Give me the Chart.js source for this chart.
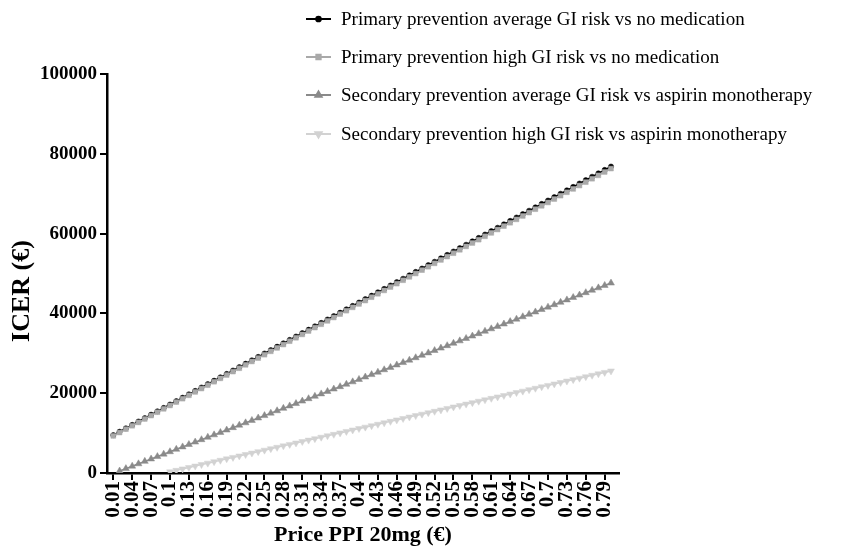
<!DOCTYPE html>
<html>
<head>
<meta charset="utf-8">
<script src="https://cdn.jsdelivr.net/npm/chart.js@4.4.1/dist/chart.umd.min.js"></script>
<style>
  html, body { margin: 0; padding: 0; background: #ffffff; }
  #wrap { position: relative; width: 856px; height: 549px; }
</style>
</head>
<body>
<div id="wrap"><canvas id="c" width="856" height="549"></canvas></div>
<script>
// PPI price per 20 mg tablet (€)
const prices = [
  0.01,0.02,0.03,0.04,0.05,0.06,0.07,0.08,0.09,0.10,
  0.11,0.12,0.13,0.14,0.15,0.16,0.17,0.18,0.19,0.20,
  0.21,0.22,0.23,0.24,0.25,0.26,0.27,0.28,0.29,0.30,
  0.31,0.32,0.33,0.34,0.35,0.36,0.37,0.38,0.39,0.40,
  0.41,0.42,0.43,0.44,0.45,0.46,0.47,0.48,0.49,0.50,
  0.51,0.52,0.53,0.54,0.55,0.56,0.57,0.58,0.59,0.60,
  0.61,0.62,0.63,0.64,0.65,0.66,0.67,0.68,0.69,0.70,
  0.71,0.72,0.73,0.74,0.75,0.76,0.77,0.78,0.79,0.80
];

// ICER (€) per scenario
const primaryAverage = [
  9500,10350,11200,12060,12910,13760,14610,15460,16320,17170,
  18020,18870,19720,20580,21430,22280,23130,23980,24840,25690,
  26540,27390,28240,29100,29950,30800,31650,32500,33360,34210,
  35060,35910,36760,37620,38470,39320,40170,41020,41880,42730,
  43580,44430,45280,46140,46990,47840,48690,49540,50400,51250,
  52100,52950,53800,54660,55510,56360,57210,58060,58920,59770,
  60620,61470,62320,63180,64030,64880,65730,66580,67440,68290,
  69140,69990,70840,71700,72550,73400,74250,75100,75960,76810
];
const primaryHigh = [
  9300,10150,11000,11840,12690,13540,14390,15240,16080,16930,
  17780,18630,19480,20320,21170,22020,22870,23720,24560,25410,
  26260,27110,27960,28800,29650,30500,31350,32200,33040,33890,
  34740,35590,36440,37280,38130,38980,39830,40680,41520,42370,
  43220,44070,44920,45760,46610,47460,48310,49160,50000,50850,
  51700,52550,53400,54240,55090,55940,56790,57640,58480,59330,
  60180,61030,61880,62720,63570,64420,65270,66120,66960,67810,
  68660,69510,70360,71200,72050,72900,73750,74600,75440,76290
];
const secondaryAverage = [
  null,500,1100,1710,2310,2920,3520,4120,4730,5330,
  5940,6540,7140,7750,8350,8960,9560,10160,10770,11370,
  11980,12580,13180,13790,14390,15000,15600,16200,16810,17410,
  18020,18620,19220,19830,20430,21040,21640,22240,22850,23450,
  24060,24660,25260,25870,26470,27080,27680,28280,28890,29490,
  30100,30700,31300,31910,32510,33120,33720,34320,34930,35530,
  36140,36740,37340,37950,38550,39160,39760,40360,40970,41570,
  42180,42780,43380,43990,44590,45200,45800,46400,47010,47610
];
const secondaryHigh = [
  null,null,null,null,null,null,null,null,null,300,
  660,1020,1380,1740,2110,2470,2830,3190,3550,3910,
  4270,4630,4990,5350,5720,6080,6440,6800,7160,7520,
  7880,8240,8600,8960,9330,9690,10050,10410,10770,11130,
  11490,11850,12210,12570,12940,13300,13660,14020,14380,14740,
  15100,15460,15820,16180,16550,16910,17270,17630,17990,18350,
  18710,19070,19430,19790,20160,20520,20880,21240,21600,21960,
  22320,22680,23040,23400,23770,24130,24490,24850,25210,25570
];

const seriesNames = [
  'Primary prevention average GI risk vs no medication',
  'Primary prevention high GI risk vs no medication',
  'Secondary prevention average GI risk vs aspirin monotherapy',
  'Secondary prevention high GI risk vs aspirin monotherapy'
];

const xTickLabels = [
  '0.01','0.04','0.07','0.1','0.13','0.16','0.19','0.22','0.25','0.28',
  '0.31','0.34','0.37','0.4','0.43','0.46','0.49','0.52','0.55','0.58',
  '0.61','0.64','0.67','0.7','0.73','0.76','0.79'
];
const yTickValues = [0, 20000, 40000, 60000, 80000, 100000];

const SERIF = '"Liberation Serif", "Times New Roman", serif';

function pts(values) {
  return prices.map((p, i) => ({ x: p, y: values[i] }));
}

const styles = [
  { color: '#000000', pointStyle: 'circle',   radius: 2.6, rotation: 0,   order: 2 },
  { color: '#a9a9a9', pointStyle: 'rect',     radius: 3.4, rotation: 0,   order: 1 },
  { color: '#8a8a8a', pointStyle: 'triangle', radius: 4,   rotation: 0,   order: 3 },
  { color: '#d2d2d2', pointStyle: 'triangle', radius: 4,   rotation: 180, order: 4 }
];
const seriesValues = [primaryAverage, primaryHigh, secondaryAverage, secondaryHigh];

const datasets = seriesValues.map((vals, k) => ({
  label: seriesNames[k],
  data: pts(vals),
  borderColor: styles[k].color,
  backgroundColor: styles[k].color,
  borderWidth: 1.5,
  pointStyle: styles[k].pointStyle,
  pointRadius: styles[k].radius,
  pointRotation: styles[k].rotation,
  pointBorderWidth: 0.5,
  order: styles[k].order,
  spanGaps: false
}));

// Legend block and rotated y-axis title, drawn on the canvas
const extrasPlugin = {
  id: 'extras',
  afterDraw(chart) {
    const ctx = chart.ctx;
    const rows = [19, 57, 95, 134];
    ctx.save();
    rows.forEach((y, k) => {
      const s = styles[k];
      ctx.strokeStyle = s.color;
      ctx.lineWidth = 2;
      ctx.beginPath();
      ctx.moveTo(306, y);
      ctx.lineTo(331, y);
      ctx.stroke();
      ctx.fillStyle = s.color;
      ctx.strokeStyle = s.color;
      Chart.helpers.drawPoint(ctx, {
        pointStyle: s.pointStyle, radius: s.radius * 0.9, rotation: s.rotation, borderWidth: 0.5
      }, 318.5, y);
      ctx.fillStyle = '#000000';
      ctx.font = '19px ' + SERIF;
      ctx.textAlign = 'left';
      ctx.textBaseline = 'middle';
      ctx.fillText(seriesNames[k], 341, y + 1);
    });
    ctx.translate(22, 291);
    ctx.rotate(-Math.PI / 2);
    ctx.font = 'bold 26px ' + SERIF;
    ctx.textAlign = 'center';
    ctx.textBaseline = 'middle';
    ctx.fillStyle = '#000000';
    ctx.fillText('ICER (€)', 0, 0);
    ctx.restore();
  }
};

new Chart(document.getElementById('c'), {
  type: 'line',
  data: { datasets },
  plugins: [extrasPlugin],
  options: {
    responsive: false,
    animation: false,
    layout: { padding: { left: 0, right: 237, top: 74, bottom: 0 } },
    plugins: { legend: { display: false }, tooltip: { enabled: false } },
    scales: {
      x: {
        type: 'linear',
        min: 0,
        max: 0.8127,
        afterBuildTicks(scale) {
          scale.ticks = xTickLabels.map(t => ({ value: Number(t) }));
        },
        afterFit(scale) { scale.height = 76; },
        grid: { display: true, drawOnChartArea: false, drawTicks: true, tickLength: 7, color: '#000000', lineWidth: 2 },
        border: { display: true, color: '#000000', width: 2.5 },
        ticks: {
          autoSkip: false,
          maxRotation: 90,
          minRotation: 90,
          padding: 1,
          color: '#000000',
          font: { family: SERIF, size: 21, weight: 'bold' },
          callback: (value, index) => xTickLabels[index]
        },
        title: {
          display: true,
          text: 'Price PPI 20mg (€)',
          color: '#000000',
          font: { family: SERIF, size: 22, weight: 'bold' },
          padding: { top: 0, bottom: 0 }
        }
      },
      y: {
        type: 'linear',
        min: 0,
        max: 100000,
        afterBuildTicks(scale) {
          scale.ticks = yTickValues.map(v => ({ value: v }));
        },
        afterFit(scale) { scale.width = 107; },
        grid: { display: true, drawOnChartArea: false, drawTicks: true, tickLength: 7, color: '#000000', lineWidth: 2 },
        border: { display: true, color: '#000000', width: 2.5 },
        ticks: {
          padding: 3,
          color: '#000000',
          font: { family: SERIF, size: 19, weight: 'bold' },
          callback: (value) => String(value)
        }
      }
    }
  }
});
</script>
</body>
</html>
